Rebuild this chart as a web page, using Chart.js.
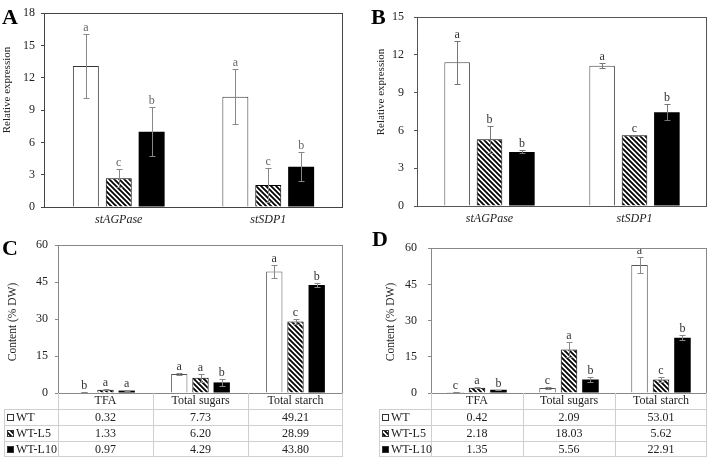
<!DOCTYPE html>
<html>
<head>
<meta charset="utf-8">
<script src="https://cdn.jsdelivr.net/npm/chart.js@4.4.0/dist/chart.umd.min.js"></script>
<style>
  body { margin: 0; background: #fff; width: 708px; height: 457px; position: relative; overflow: hidden; }
  canvas { position: absolute; }
</style>
</head>
<body>
<canvas id="grafA" width="350" height="230" style="left:0;top:0"></canvas>
<canvas id="grafB" width="354" height="230" style="left:354px;top:0"></canvas>
<canvas id="grafC" width="354" height="227" style="left:0;top:230px"></canvas>
<canvas id="grafD" width="354" height="227" style="left:354px;top:230px"></canvas>
<script>
// series names (shared by all panels)
var seriesNames = ['WT', 'WT-L5', 'WT-L10'];

// panels A and B: relative expression
var genes = ['stAGPase', 'stSDP1'];
var aWT = [13.1, 10.25],  aWTerr = [2.95, 2.55],  aWTlet = ['a', 'a'];
var aL5 = [2.66, 2.05],   aL5err = [0.84, 1.6],   aL5let = ['c', 'c'];
var aL10 = [7.0, 3.75],   aL10err = [2.25, 1.32], aL10let = ['b', 'b'];

var bWT = [11.43, 11.15], bWTerr = [1.7, 0.22],   bWTlet = ['a', 'a'];
var bL5 = [5.3, 5.62],    bL5err = [1.06, 0.05],  bL5let = ['b', 'c'];
var bL10 = [4.3, 7.45],   bL10err = [0.12, 0.64], bL10let = ['b', 'b'];

// panels C and D: content (% DW)
var componentes = ['TFA', 'Total sugars', 'Total starch'];
var cWT = [0.32, 7.73, 49.21],  cWTerr = [0.05, 0.35, 2.7], cWTlet = ['b', 'a', 'a'];
var cL5 = [1.33, 6.20, 28.99],  cL5err = [0.1, 1.7, 1.0],   cL5let = ['a', 'a', 'c'];
var cL10 = [0.97, 4.29, 43.80], cL10err = [0.1, 1.5, 0.9],  cL10let = ['a', 'b', 'b'];

var dWT = [0.42, 2.09, 53.01],  dWTerr = [0.05, 0.3, 3.2],  dWTlet = ['c', 'c', 'a'];
var dL5 = [2.18, 18.03, 5.62],  dL5err = [0.15, 3.0, 1.0],  dL5let = ['a', 'a', 'c'];
var dL10 = [1.35, 5.56, 22.91], dL10err = [0.1, 1.0, 1.0],  dL10let = ['b', 'b', 'b'];

var fonte = "'Liberation Serif', 'DejaVu Serif', serif";

function hachura(tam) {
    var c = document.createElement('canvas');
    c.width = tam; c.height = tam;
    var g = c.getContext('2d');
    g.fillStyle = '#fff';
    g.fillRect(0, 0, tam, tam);
    g.strokeStyle = '#000';
    g.lineWidth = tam * 0.36;
    g.beginPath();
    g.moveTo(-1, -1); g.lineTo(tam + 1, tam + 1);
    g.moveTo(-1, tam - 1); g.lineTo(1, tam + 1);
    g.moveTo(tam - 1, -1); g.lineTo(tam + 1, 1);
    g.stroke();
    return g.createPattern(c, 'repeat');
}

// error bars, letters, frame, axis title, panel letter and (optional) data table
var extras = {
    id: 'extras',
    afterDatasetsDraw: function(chart, args, o) {
        var ctx = chart.ctx;
        var area = chart.chartArea;
        var y = chart.scales.y;
        ctx.save();
        chart.data.datasets.forEach(function(ds, i) {
            var meta = chart.getDatasetMeta(i);
            meta.data.forEach(function(bar, j) {
                var v = ds.data[j], e = ds.erros[j];
                var yt = Math.round(y.getPixelForValue(v + e)) + 0.5;
                var yb = Math.round(y.getPixelForValue(v - e)) + 0.5;
                var x = Math.round(bar.x) + 0.5;
                ctx.strokeStyle = o.corErro;
                ctx.lineWidth = 1;
                ctx.beginPath();
                ctx.moveTo(x, yt); ctx.lineTo(x, yb);
                ctx.moveTo(x - 3, yt); ctx.lineTo(x + 3, yt);
                ctx.moveTo(x - 3, yb); ctx.lineTo(x + 3, yb);
                ctx.stroke();
                ctx.fillStyle = o.corLetra;
                ctx.font = o.tamLetra + 'px ' + fonte;
                ctx.textAlign = 'center';
                ctx.textBaseline = 'alphabetic';
                ctx.fillText(ds.letras[j], bar.x, yt - 4);
            });
        });
        // frame
        ctx.strokeStyle = o.corMoldura;
        ctx.lineWidth = 1;
        ctx.strokeRect(Math.round(area.left) + 0.5, Math.round(area.top) + 0.5,
                       Math.round(area.width) - 1, Math.round(area.height));
        // y axis title
        ctx.save();
        ctx.translate(o.tx, o.ty);
        ctx.rotate(-Math.PI / 2);
        ctx.fillStyle = '#222';
        ctx.font = o.tamTitulo + 'px ' + fonte;
        ctx.textAlign = 'center';
        ctx.textBaseline = 'middle';
        ctx.fillText(o.titulo, 0, 0);
        ctx.restore();
        // panel letter
        ctx.fillStyle = '#000';
        ctx.font = 'bold 22px ' + fonte;
        ctx.textAlign = 'left';
        ctx.textBaseline = 'alphabetic';
        ctx.fillText(o.painel, o.px, o.py);

        if (o.tabela) {
            var t = o.tabela;
            var xs = chart.scales.x;
            var passo = xs.getPixelForValue(1) - xs.getPixelForValue(0);
            var topo = Math.round(area.bottom);
            var alt = 16;
            ctx.strokeStyle = '#cfcfcf';
            ctx.beginPath();
            for (var r = 1; r <= 4; r++) {
                var yy = topo + r * alt + 0.5;
                if (r === 4) yy = chart.height - 0.5;
                ctx.moveTo(t.esquerda, yy); ctx.lineTo(area.right, yy);
            }
            ctx.moveTo(t.esquerda + 0.5, topo + alt); ctx.lineTo(t.esquerda + 0.5, chart.height);
            for (var k = 0; k <= componentes.length; k++) {
                var xx = Math.round(xs.getPixelForValue(k) - passo / 2) + 0.5;
                if (k === componentes.length) xx = Math.round(area.right) - 0.5;
                ctx.moveTo(xx, topo); ctx.lineTo(xx, chart.height);
            }
            ctx.stroke();
            ctx.font = '12px ' + fonte;
            ctx.textBaseline = 'middle';
            chart.data.datasets.forEach(function(ds, i) {
                var yc = topo + alt * (i + 1) + alt / 2 + 1;
                // legend icon
                var ix = t.esquerda + 3, iy = Math.round(yc - 4);
                ctx.fillStyle = ds.backgroundColor;
                ctx.fillRect(ix, iy, 7, 7);
                ctx.strokeStyle = '#333';
                ctx.strokeRect(ix + 0.5, iy + 0.5, 6, 6);
                ctx.fillStyle = '#222';
                ctx.textAlign = 'left';
                ctx.fillText(ds.label, t.esquerda + 12, yc);
                ctx.textAlign = 'center';
                ds.data.forEach(function(v, j) {
                    ctx.fillText(v.toFixed(2), xs.getPixelForValue(j), yc);
                });
            });
        }
        ctx.restore();
    }
};

function conjuntos(wt, wtE, wtL, l5, l5E, l5L, l10, l10E, l10L, corBorda) {
    return [
        { label: seriesNames[0], data: wt, erros: wtE, letras: wtL,
          backgroundColor: '#fff', borderColor: corBorda, borderWidth: 1 },
        { label: seriesNames[1], data: l5, erros: l5E, letras: l5L,
          backgroundColor: hachura(5), borderColor: '#000', borderWidth: 1 },
        { label: seriesNames[2], data: l10, erros: l10E, letras: l10L,
          backgroundColor: '#000', borderColor: '#000', borderWidth: 0 }
    ];
}

function novoGrafico(id, cfg) {
    var ctx = document.getElementById(id).getContext('2d');
    return new Chart(ctx, {
        type: 'bar',
        data: { labels: cfg.labels, datasets: cfg.datasets },
        plugins: [extras],
        options: {
            responsive: false,
            animation: false,
            devicePixelRatio: 1,
            layout: { padding: cfg.padding },
            datasets: { bar: { categoryPercentage: cfg.catPct, barPercentage: cfg.barPct } },
            plugins: {
                legend: { display: false },
                tooltip: { enabled: false },
                extras: cfg.extras
            },
            scales: {
                x: {
                    grid: { display: false, drawTicks: false },
                    border: { display: false },
                    ticks: { color: '#222', padding: cfg.xPad,
                             font: { family: fonte, size: 12, style: cfg.italico ? 'italic' : 'normal' } },
                    afterFit: function(s) { s.height = cfg.xAlt; }
                },
                y: {
                    min: 0, max: cfg.max,
                    ticks: { stepSize: cfg.passo, color: '#222', padding: cfg.yPad,
                             font: { family: fonte, size: 12 } },
                    grid: { drawOnChartArea: false, drawTicks: true, tickLength: 3, color: cfg.corMoldura },
                    border: { display: false },
                    afterFit: function(s) { s.width = cfg.yLarg; }
                }
            }
        }
    });
}

var grafA = novoGrafico('grafA', {
    labels: genes,
    datasets: conjuntos(aWT, aWTerr, aWTlet, aL5, aL5err, aL5let, aL10, aL10err, aL10let, '#333'),
    padding: { left: 0, top: 4, right: 7, bottom: 0 },
    catPct: 0.66, barPct: 0.79, italico: true, xPad: 6, xAlt: 23,
    max: 18, passo: 3, yPad: 6, yLarg: 44,
    corMoldura: '#444',
    extras: { corErro: '#888', corLetra: '#666', tamLetra: 12, corMoldura: '#444', painel: 'A', px: 2, py: 24,
              titulo: 'Relative expression', tamTitulo: 11, tx: 7, ty: 90 }
});

var grafB = novoGrafico('grafB', {
    labels: genes,
    datasets: conjuntos(bWT, bWTerr, bWTlet, bL5, bL5err, bL5let, bL10, bL10err, bL10let, '#444'),
    padding: { left: 20, top: 4, right: 1, bottom: 0 },
    catPct: 0.67, barPct: 0.79, italico: true, xPad: 6, xAlt: 24,
    max: 15, passo: 3, yPad: 10, yLarg: 43,
    corMoldura: '#555',
    extras: { corErro: '#777', corLetra: '#333', tamLetra: 12, corMoldura: '#555', painel: 'B', px: 17, py: 24,
              titulo: 'Relative expression', tamTitulo: 11, tx: 27, ty: 92 }
});

var grafC = novoGrafico('grafC', {
    labels: componentes,
    datasets: conjuntos(cWT, cWTerr, cWTlet, cL5, cL5err, cL5let, cL10, cL10err, cL10let, '#555'),
    padding: { left: 0, top: 15, right: 11, bottom: 0 },
    catPct: 0.67, barPct: 0.77, italico: false, xPad: 1, xAlt: 64,
    max: 60, passo: 15, yPad: 7, yLarg: 58,
    corMoldura: '#888',
    extras: { corErro: '#888', corLetra: '#333', tamLetra: 12, corMoldura: '#888', painel: 'C', px: 2, py: 25,
              titulo: 'Content (% DW)', tamTitulo: 11.5, tx: 13, ty: 92, tabela: { esquerda: 4 } }
});

var grafD = novoGrafico('grafD', {
    labels: componentes,
    datasets: conjuntos(dWT, dWTerr, dWTlet, dL5, dL5err, dL5let, dL10, dL10err, dL10let, '#555'),
    padding: { left: 20, top: 15, right: 1, bottom: 0 },
    catPct: 0.7, barPct: 0.77, italico: false, xPad: 1, xAlt: 64,
    max: 60, passo: 15, yPad: 11, yLarg: 57,
    corMoldura: '#888',
    extras: { corErro: '#888', corLetra: '#333', tamLetra: 12, corMoldura: '#888', painel: 'D', px: 18, py: 16,
              titulo: 'Content (% DW)', tamTitulo: 11.5, tx: 37, ty: 92, tabela: { esquerda: 25 } }
});
</script>
</body>
</html>
